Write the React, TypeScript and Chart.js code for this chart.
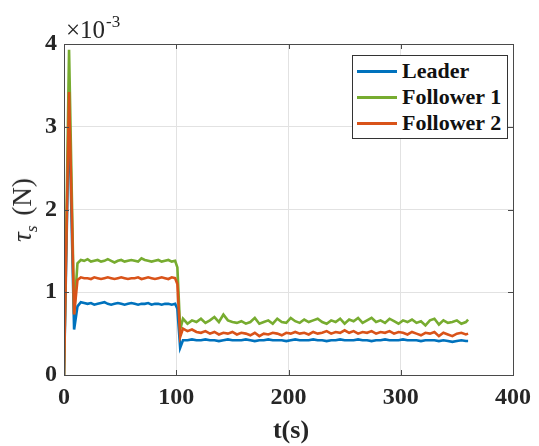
import React, { useEffect, useRef } from "react";
import { Chart, registerables } from "chart.js";

Chart.register(...registerables);

// time stamps (s)
const T = [
  0, 4.5, 9,
  12, 15, 18, 21, 24, 27, 30, 33, 36, 39, 42, 45, 48, 51, 54, 57, 60, 63, 66, 69, 72, 75, 78, 81, 84, 87, 90, 93, 96, 99,
  101, 103.5, 106,
  110, 114, 118, 122, 126, 130, 134, 138,
  142, 146, 150, 154, 158, 162, 166, 170,
  174, 178, 182, 186, 190, 194, 198, 202,
  206, 210, 214, 218, 222, 226, 230, 234,
  238, 242, 246, 250, 254, 258, 262, 266,
  270, 274, 278, 282, 286, 290, 294, 298,
  302, 306, 310, 314, 318, 322, 326, 330,
  334, 338, 342, 346, 350, 354, 358, 360,
];

// values in units of 1e-3 N
const LEADER = [
  0, 3.2, 0.55,
  0.83, 0.88, 0.87, 0.86, 0.87, 0.85, 0.86, 0.87, 0.88, 0.86, 0.85, 0.86, 0.87, 0.86, 0.85, 0.86, 0.87, 0.86, 0.85, 0.86, 0.86, 0.87, 0.85, 0.86, 0.86, 0.85, 0.86, 0.86, 0.85, 0.86,
  0.8, 0.33, 0.42,
  0.42, 0.43, 0.42, 0.42, 0.43, 0.42, 0.42, 0.41,
  0.42, 0.43, 0.42, 0.42, 0.42, 0.43, 0.42, 0.41,
  0.42, 0.42, 0.43, 0.42, 0.42, 0.42, 0.41, 0.42,
  0.43, 0.42, 0.42, 0.42, 0.43, 0.42, 0.42, 0.41,
  0.42, 0.42, 0.43, 0.42, 0.42, 0.42, 0.43, 0.42,
  0.42, 0.41, 0.42, 0.42, 0.43, 0.42, 0.42, 0.42,
  0.43, 0.42, 0.42, 0.42, 0.41, 0.42, 0.42, 0.42,
  0.41, 0.42, 0.41, 0.4, 0.41, 0.42, 0.41, 0.41,
];

const FOLLOWER1 = [
  0, 3.93, 0.74,
  1.35, 1.39, 1.38, 1.4, 1.37, 1.38, 1.39, 1.37, 1.38, 1.4, 1.38, 1.36, 1.38, 1.39, 1.37, 1.38, 1.39, 1.38, 1.37, 1.41, 1.39, 1.38, 1.37, 1.38, 1.39, 1.37, 1.38, 1.39, 1.37, 1.38,
  1.3, 0.55, 0.68,
  0.62, 0.66, 0.64, 0.68, 0.63, 0.66, 0.7, 0.64,
  0.73, 0.66, 0.64, 0.63, 0.65, 0.62, 0.64, 0.69,
  0.62, 0.64, 0.66, 0.62, 0.68, 0.64, 0.63, 0.69,
  0.65, 0.63, 0.67, 0.64, 0.66, 0.68, 0.64, 0.62,
  0.66, 0.64, 0.68, 0.62, 0.67, 0.65, 0.69, 0.63,
  0.66, 0.69, 0.64, 0.66, 0.63, 0.68, 0.65, 0.62,
  0.66, 0.64, 0.67, 0.63, 0.65, 0.6, 0.66, 0.68,
  0.61, 0.66, 0.63, 0.64, 0.66, 0.62, 0.64, 0.67,
];

const FOLLOWER2 = [
  0, 3.42, 0.73,
  1.15, 1.18, 1.17, 1.17, 1.16, 1.18, 1.17, 1.16, 1.17, 1.18, 1.17, 1.16, 1.17, 1.18, 1.17, 1.16, 1.17, 1.17, 1.18, 1.16, 1.17, 1.18, 1.17, 1.16, 1.17, 1.18, 1.17, 1.16, 1.18, 1.17,
  1.1, 0.46, 0.56,
  0.53, 0.55, 0.52, 0.51, 0.53, 0.5, 0.52, 0.49,
  0.51, 0.5, 0.52, 0.49, 0.51, 0.5, 0.48, 0.51,
  0.47, 0.5, 0.49, 0.51, 0.5, 0.48, 0.51, 0.5,
  0.52, 0.5, 0.51, 0.49, 0.52, 0.5, 0.51, 0.53,
  0.5, 0.52, 0.51, 0.54, 0.51, 0.53, 0.5, 0.52,
  0.51, 0.53, 0.5, 0.52, 0.51, 0.53, 0.5, 0.52,
  0.51, 0.49, 0.52, 0.5, 0.48, 0.51, 0.5, 0.52,
  0.47, 0.51, 0.49, 0.47, 0.5, 0.51, 0.49, 0.5,
];

const X_TICKS = [0, 100, 200, 300, 400];
const Y_TICKS = [0, 1, 2, 3, 4];

const SERIES_NAMES = ["Leader", "Follower 1", "Follower 2"];
const COLORS = ["#0072BD", "#77AC30", "#D95319"];

const FONT = "'Liberation Serif', 'Times New Roman', serif";

const pts = (vals: number[]) => T.map((t, i) => ({ x: t, y: vals[i] }));

const framePlugin = {
  id: "frame",
  afterDraw(chart: any) {
    const { ctx, chartArea } = chart;
    const { left, right, top, bottom } = chartArea;
    const xs = chart.scales.x;
    const ys = chart.scales.y;
    ctx.save();
    ctx.strokeStyle = "#4a4a4a";
    ctx.lineWidth = 1;
    ctx.beginPath();
    X_TICKS.slice(1, -1).forEach((v) => {
      const px = Math.round(xs.getPixelForValue(v)) + 0.5;
      ctx.moveTo(px, bottom);
      ctx.lineTo(px, bottom - 5);
      ctx.moveTo(px, top);
      ctx.lineTo(px, top + 5);
    });
    Y_TICKS.slice(1, -1).forEach((v) => {
      const py = Math.round(ys.getPixelForValue(v)) + 0.5;
      ctx.moveTo(left, py);
      ctx.lineTo(left + 5, py);
      ctx.moveTo(right, py);
      ctx.lineTo(right - 5, py);
    });
    ctx.stroke();
    ctx.strokeRect(Math.round(left) + 0.5, Math.round(top) + 0.5, Math.round(right - left), Math.round(bottom - top));
    ctx.restore();
  },
};

export default function App() {
  const ref = useRef<HTMLCanvasElement | null>(null);

  useEffect(() => {
    document.body.style.margin = "0";
    if (!ref.current) return;
    const datasets = [LEADER, FOLLOWER1, FOLLOWER2].map((vals, i) => ({
      label: SERIES_NAMES[i],
      data: pts(vals),
      borderColor: COLORS[i],
      backgroundColor: COLORS[i],
      borderWidth: 2.6,
      pointRadius: 0,
      tension: 0,
      fill: false,
      order: 2 - i,
    }));
    const chart = new Chart(ref.current, {
      type: "line",
      data: { datasets },
      options: {
        animation: false,
        responsive: false,
        devicePixelRatio: 1,
        layout: { padding: { top: 44, right: 20, left: 0, bottom: 0 } },
        plugins: { legend: { display: false }, tooltip: { enabled: false } },
        scales: {
          x: {
            type: "linear",
            min: 0,
            max: 400,
            afterBuildTicks: (s: any) => {
              s.ticks = X_TICKS.map((v) => ({ value: v }));
            },
            afterFit: (s: any) => {
              s.height = 71;
            },
            ticks: {
              font: { family: FONT, size: 24, weight: "bold" },
              color: "#262626",
              padding: 8,
              maxRotation: 0,
              callback: (v: any) => String(v),
            },
            grid: { color: "#e2e2e2", lineWidth: 1, drawTicks: false },
            border: { display: false },
          },
          y: {
            type: "linear",
            min: 0,
            max: 4,
            afterBuildTicks: (s: any) => {
              s.ticks = Y_TICKS.map((v) => ({ value: v }));
            },
            afterFit: (s: any) => {
              s.width = 64;
            },
            ticks: {
              font: { family: FONT, size: 24, weight: "bold" },
              color: "#262626",
              padding: 7,
              callback: (v: any) => String(v),
            },
            grid: { color: "#e2e2e2", lineWidth: 1, drawTicks: false },
            border: { display: false },
          },
        },
      },
      plugins: [framePlugin],
    });
    return () => chart.destroy();
  }, []);

  const rowTops = [58, 84, 110];

  return (
    <div style={{ position: "relative", width: 539, height: 446, background: "#fff", fontFamily: FONT, color: "#1a1a1a" }}>
      <canvas ref={ref} width={539} height={446} style={{ display: "block" }} />
      {/* exponent */}
      <div style={{ position: "absolute", left: 66, top: 16, fontSize: 25, lineHeight: "28px", whiteSpace: "nowrap", color: "#262626" }}>
        ×10
        <span style={{ fontSize: 17, position: "relative", top: -11, marginLeft: 1 }}>-3</span>
      </div>
      {/* y title */}
      <div
        style={{
          position: "absolute",
          left: 24,
          top: 210,
          transform: "translate(-50%, -50%) rotate(-90deg)",
          fontSize: 27,
          whiteSpace: "nowrap",
          lineHeight: "30px",
          color: "#262626",
        }}
      >
        <i>τ</i>
        <span style={{ fontSize: 17, fontStyle: "italic", position: "relative", top: 6 }}>s</span>
        <span style={{ marginLeft: 10 }}>(N)</span>
      </div>
      {/* x title */}
      <div
        style={{
          position: "absolute",
          left: 291,
          top: 430,
          transform: "translate(-50%, -50%)",
          fontSize: 26,
          fontWeight: "bold",
          whiteSpace: "nowrap",
          lineHeight: "30px",
          color: "#262626",
        }}
      >
        t(s)
      </div>
      {/* legend */}
      <div
        style={{
          position: "absolute",
          left: 352,
          top: 55,
          width: 154,
          height: 82,
          border: "1px solid #333",
          background: "#fff",
        }}
      >
        {SERIES_NAMES.map((name, i) => (
          <div key={name} style={{ position: "absolute", left: 0, top: rowTops[i] - 56, height: 26, width: 154 }}>
            <div style={{ position: "absolute", left: 4, top: 12, width: 40, height: 3, background: COLORS[i] }} />
            <div
              style={{
                position: "absolute",
                left: 49,
                top: 0,
                fontSize: 22,
                fontWeight: "bold",
                lineHeight: "26px",
                whiteSpace: "nowrap",
                color: "#111",
              }}
            >
              {name}
            </div>
          </div>
        ))}
      </div>
    </div>
  );
}
